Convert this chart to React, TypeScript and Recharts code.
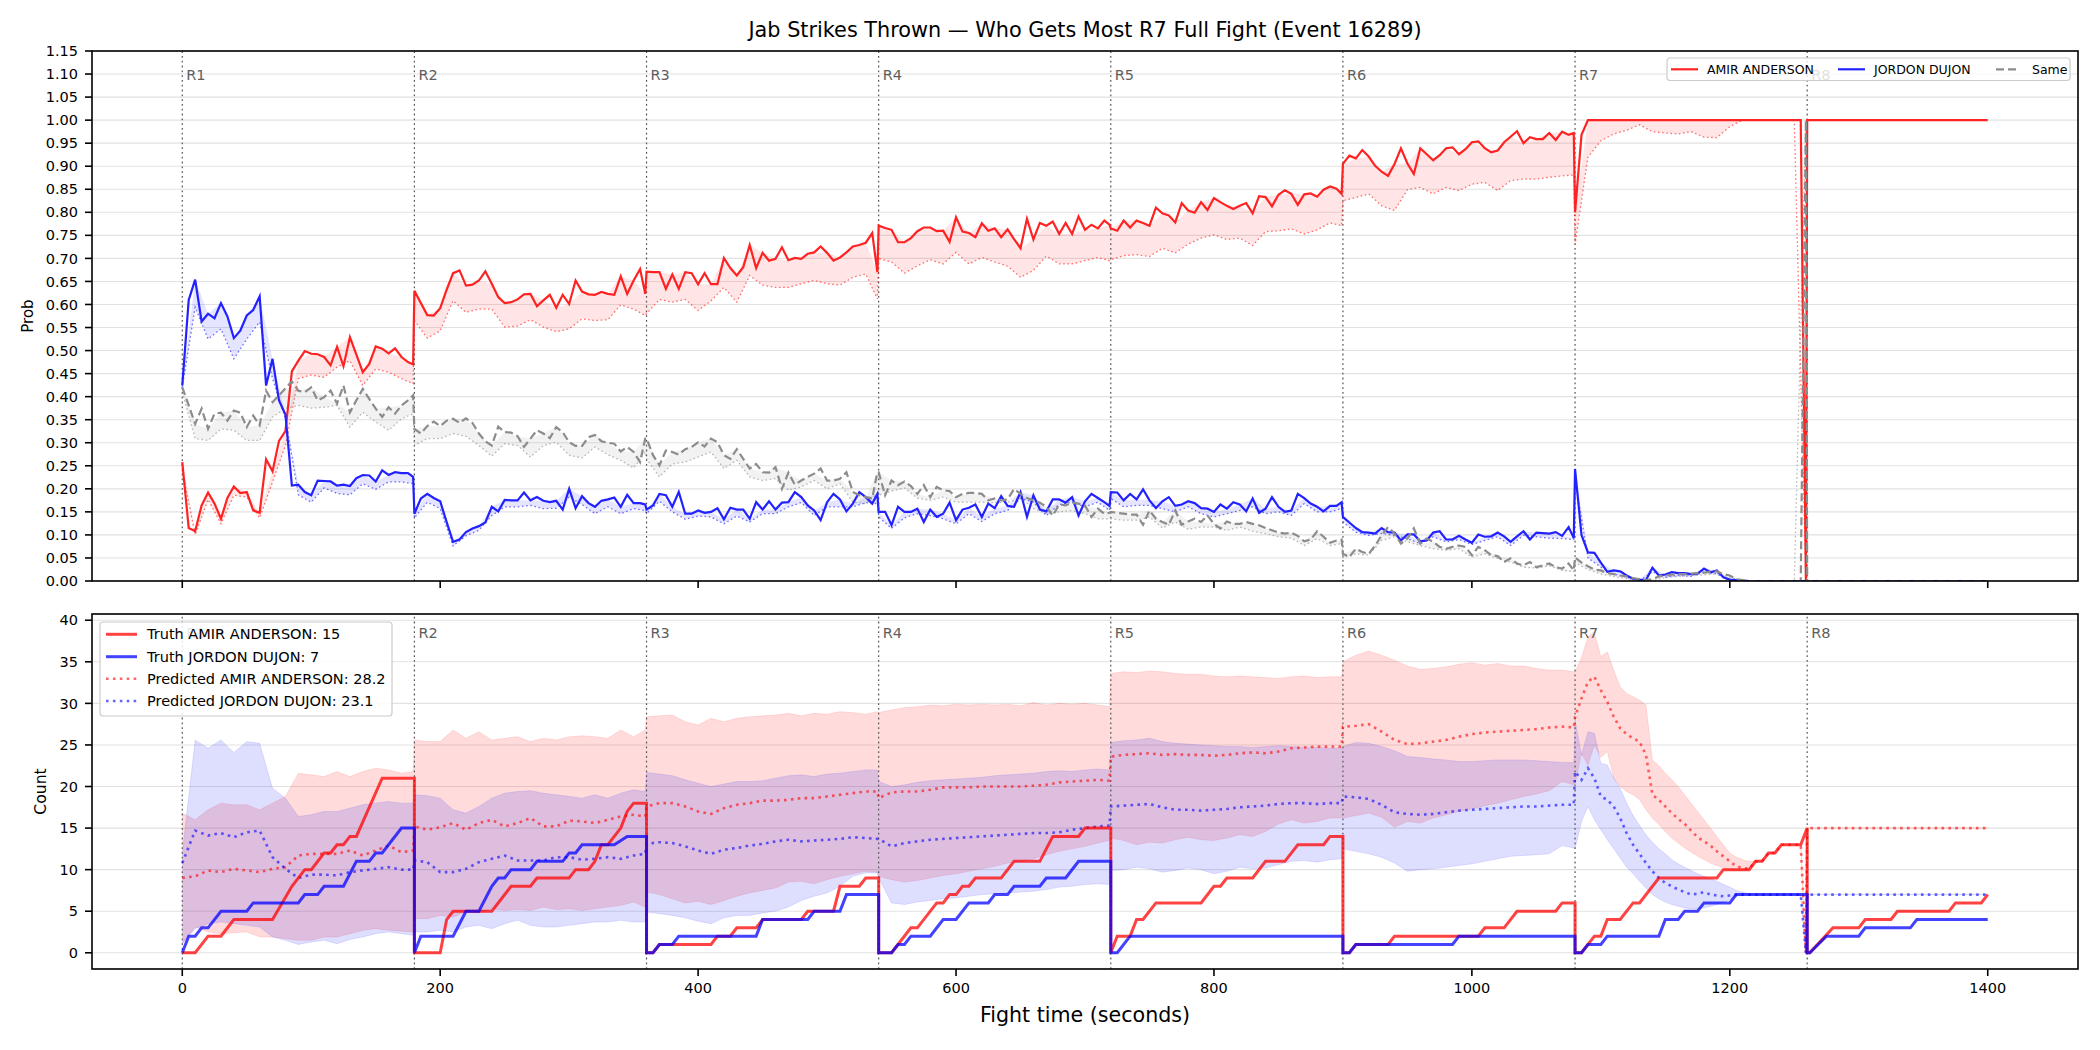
import React from "react";
import { Area, CartesianGrid, ComposedChart, Line, ReferenceLine, XAxis, YAxis } from "recharts";

// Fight layout: every round restarts the running counts at its start time.
const ROUND_STARTS = [0, 180, 360, 540, 720, 900, 1080];
const ROUND_LINES = [0, 180, 360, 540, 720, 900, 1080, 1260];
const ROUND_NAMES = ["R1", "R2", "R3", "R4", "R5", "R6", "R7", "R8"];
const ROUND_LAST = 179; // last sample before the round resets
const FINAL_T = [1260, 1400];
const TIME_TICKS = [0, 200, 400, 600, 800, 1000, 1200, 1400];
const PROB_TICKS = [0, 0.05, 0.1, 0.15, 0.2, 0.25, 0.3, 0.35, 0.4, 0.45, 0.5, 0.55, 0.6, 0.65, 0.7, 0.75, 0.8, 0.85, 0.9, 0.95, 1, 1.05, 1.1, 1.15];
const COUNT_TICKS = [0, 5, 10, 15, 20, 25, 30, 35, 40];

// ---- "who gets most" probabilities, one row per round, 5 s samples ----
const amirProb = [
  [0.258, 0.115, 0.108, 0.164, 0.192, 0.168, 0.135, 0.18, 0.205, 0.191, 0.193, 0.153, 0.148, 0.264, 0.238, 0.304, 0.325, 0.455, 0.478, 0.499, 0.493, 0.492, 0.486, 0.468, 0.508, 0.466, 0.529, 0.491, 0.453, 0.471, 0.509, 0.504, 0.494, 0.505, 0.486, 0.475, 0.47],
  [0.63, 0.603, 0.577, 0.576, 0.592, 0.632, 0.668, 0.674, 0.641, 0.643, 0.652, 0.672, 0.645, 0.616, 0.603, 0.605, 0.611, 0.622, 0.623, 0.596, 0.609, 0.621, 0.593, 0.621, 0.601, 0.652, 0.628, 0.622, 0.621, 0.627, 0.623, 0.621, 0.661, 0.623, 0.652, 0.677, 0.623],
  [0.671, 0.67, 0.67, 0.634, 0.665, 0.634, 0.67, 0.668, 0.644, 0.668, 0.644, 0.644, 0.701, 0.679, 0.663, 0.681, 0.729, 0.679, 0.712, 0.695, 0.699, 0.724, 0.696, 0.701, 0.699, 0.71, 0.713, 0.726, 0.712, 0.695, 0.702, 0.713, 0.726, 0.729, 0.734, 0.755, 0.67],
  [0.771, 0.766, 0.762, 0.735, 0.735, 0.744, 0.759, 0.767, 0.767, 0.759, 0.76, 0.736, 0.789, 0.758, 0.755, 0.746, 0.776, 0.76, 0.765, 0.746, 0.763, 0.742, 0.722, 0.786, 0.741, 0.777, 0.771, 0.78, 0.753, 0.777, 0.753, 0.791, 0.762, 0.773, 0.765, 0.782, 0.773],
  [0.765, 0.76, 0.782, 0.767, 0.782, 0.777, 0.771, 0.81, 0.798, 0.793, 0.778, 0.82, 0.804, 0.799, 0.822, 0.805, 0.831, 0.822, 0.814, 0.807, 0.814, 0.82, 0.798, 0.835, 0.833, 0.813, 0.838, 0.848, 0.84, 0.816, 0.839, 0.841, 0.834, 0.849, 0.856, 0.851, 0.84],
  [0.905, 0.923, 0.917, 0.935, 0.921, 0.901, 0.888, 0.879, 0.905, 0.939, 0.906, 0.883, 0.939, 0.926, 0.913, 0.924, 0.939, 0.941, 0.926, 0.937, 0.952, 0.954, 0.939, 0.93, 0.934, 0.952, 0.964, 0.976, 0.95, 0.963, 0.959, 0.959, 0.972, 0.957, 0.975, 0.968, 0.972],
  [0.8, 0.968, 1, 1, 1, 1, 1, 1, 1, 1, 1, 1, 1, 1, 1, 1, 1, 1, 1, 1, 1, 1, 1, 1, 1, 1, 1, 1, 1, 1, 1, 1, 1, 1, 1, 1, 0],
];
const jordonProb = [
  [0.424, 0.61, 0.654, 0.563, 0.58, 0.57, 0.603, 0.574, 0.527, 0.543, 0.576, 0.588, 0.618, 0.424, 0.482, 0.392, 0.361, 0.207, 0.209, 0.193, 0.186, 0.218, 0.217, 0.216, 0.207, 0.209, 0.206, 0.223, 0.23, 0.229, 0.216, 0.24, 0.23, 0.236, 0.234, 0.234, 0.226],
  [0.146, 0.179, 0.189, 0.18, 0.173, 0.128, 0.085, 0.09, 0.106, 0.114, 0.119, 0.127, 0.161, 0.151, 0.176, 0.175, 0.175, 0.192, 0.175, 0.182, 0.174, 0.171, 0.174, 0.155, 0.2, 0.158, 0.184, 0.169, 0.161, 0.174, 0.177, 0.181, 0.161, 0.187, 0.169, 0.169, 0.166],
  [0.155, 0.164, 0.189, 0.186, 0.161, 0.193, 0.146, 0.146, 0.153, 0.148, 0.15, 0.158, 0.134, 0.159, 0.155, 0.155, 0.135, 0.171, 0.155, 0.173, 0.155, 0.17, 0.171, 0.193, 0.182, 0.164, 0.153, 0.132, 0.171, 0.189, 0.177, 0.151, 0.168, 0.193, 0.182, 0.168, 0.189],
  [0.15, 0.15, 0.121, 0.161, 0.15, 0.15, 0.157, 0.128, 0.155, 0.139, 0.146, 0.17, 0.132, 0.155, 0.159, 0.166, 0.139, 0.168, 0.158, 0.184, 0.163, 0.161, 0.193, 0.139, 0.186, 0.155, 0.151, 0.177, 0.177, 0.17, 0.182, 0.142, 0.173, 0.189, 0.18, 0.171, 0.163],
  [0.193, 0.192, 0.175, 0.189, 0.177, 0.199, 0.175, 0.158, 0.173, 0.182, 0.163, 0.166, 0.173, 0.169, 0.158, 0.157, 0.15, 0.166, 0.157, 0.171, 0.166, 0.151, 0.179, 0.148, 0.157, 0.182, 0.161, 0.15, 0.153, 0.189, 0.18, 0.168, 0.161, 0.151, 0.163, 0.163, 0.171],
  [0.139, 0.127, 0.115, 0.106, 0.105, 0.103, 0.115, 0.106, 0.105, 0.088, 0.101, 0.101, 0.086, 0.088, 0.105, 0.108, 0.09, 0.09, 0.098, 0.09, 0.083, 0.101, 0.096, 0.097, 0.105, 0.097, 0.085, 0.097, 0.108, 0.09, 0.105, 0.104, 0.103, 0.106, 0.098, 0.117, 0.093],
  [0.243, 0.1, 0.062, 0.061, 0.04, 0.02, 0.023, 0.021, 0.012, 0.005, 0.003, 0.002, 0.029, 0.012, 0.014, 0.019, 0.017, 0.017, 0.015, 0.016, 0.027, 0.019, 0.023, 0.008, 0.003, 0.002, 0.001, 0, 0, 0, 0, 0, 0, 0, 0, 0, 0],
];
const sameProb = [
  [0.42, 0.381, 0.341, 0.374, 0.33, 0.363, 0.365, 0.348, 0.37, 0.365, 0.334, 0.359, 0.338, 0.413, 0.388, 0.403, 0.418, 0.433, 0.413, 0.41, 0.42, 0.392, 0.399, 0.413, 0.385, 0.424, 0.366, 0.392, 0.417, 0.395, 0.374, 0.356, 0.377, 0.363, 0.381, 0.392, 0.403],
  [0.33, 0.32, 0.336, 0.346, 0.336, 0.348, 0.352, 0.343, 0.353, 0.343, 0.32, 0.303, 0.294, 0.335, 0.323, 0.322, 0.314, 0.291, 0.309, 0.327, 0.32, 0.31, 0.334, 0.323, 0.301, 0.293, 0.293, 0.312, 0.317, 0.303, 0.3, 0.298, 0.281, 0.291, 0.28, 0.258, 0.309],
  [0.31, 0.273, 0.251, 0.283, 0.28, 0.274, 0.286, 0.291, 0.301, 0.292, 0.309, 0.301, 0.273, 0.265, 0.286, 0.265, 0.244, 0.254, 0.236, 0.235, 0.247, 0.2, 0.235, 0.209, 0.218, 0.226, 0.233, 0.244, 0.218, 0.218, 0.222, 0.236, 0.193, 0.186, 0.182, 0.179, 0.236],
  [0.236, 0.186, 0.218, 0.208, 0.216, 0.206, 0.189, 0.208, 0.182, 0.204, 0.197, 0.195, 0.182, 0.189, 0.191, 0.191, 0.189, 0.175, 0.179, 0.175, 0.177, 0.2, 0.189, 0.18, 0.175, 0.17, 0.161, 0.142, 0.166, 0.164, 0.17, 0.168, 0.164, 0.139, 0.157, 0.146, 0.148],
  [0.15, 0.148, 0.146, 0.144, 0.144, 0.122, 0.153, 0.135, 0.128, 0.122, 0.153, 0.122, 0.129, 0.135, 0.128, 0.142, 0.124, 0.114, 0.129, 0.124, 0.124, 0.128, 0.124, 0.121, 0.115, 0.11, 0.105, 0.103, 0.105, 0.098, 0.086, 0.09, 0.108, 0.096, 0.083, 0.088, 0.09],
  [0.059, 0.052, 0.07, 0.063, 0.059, 0.077, 0.099, 0.117, 0.103, 0.081, 0.092, 0.114, 0.081, 0.092, 0.085, 0.074, 0.07, 0.074, 0.077, 0.074, 0.056, 0.074, 0.067, 0.056, 0.054, 0.041, 0.049, 0.038, 0.034, 0.041, 0.03, 0.034, 0.038, 0.03, 0.027, 0.038, 0.023],
  [0.051, 0.04, 0.032, 0.025, 0.023, 0.017, 0.015, 0.012, 0.01, 0.006, 0.004, 0.002, 0.004, 0.01, 0.012, 0.014, 0.015, 0.015, 0.016, 0.017, 0.018, 0.02, 0.021, 0.015, 0.012, 0.004, 0.002, 0, 0, 0, 0, 0, 0, 0, 0, 0, 1],
];
// lower edge of each probability band, 10 s samples
const amirProbLow = [
  [0.24, 0.1, 0.177, 0.124, 0.186, 0.182, 0.137, 0.215, 0.294, 0.439, 0.447, 0.442, 0.464, 0.478, 0.424, 0.46, 0.453, 0.439, 0.428],
  [0.565, 0.527, 0.543, 0.608, 0.583, 0.59, 0.59, 0.551, 0.553, 0.567, 0.551, 0.541, 0.547, 0.569, 0.565, 0.567, 0.599, 0.59, 0.576],
  [0.58, 0.611, 0.605, 0.611, 0.587, 0.608, 0.637, 0.605, 0.663, 0.642, 0.637, 0.637, 0.645, 0.652, 0.645, 0.642, 0.659, 0.666, 0.612],
  [0.7, 0.692, 0.668, 0.684, 0.697, 0.688, 0.713, 0.688, 0.702, 0.692, 0.683, 0.659, 0.674, 0.705, 0.688, 0.688, 0.695, 0.702, 0.695],
  [0.697, 0.706, 0.708, 0.704, 0.722, 0.712, 0.731, 0.744, 0.751, 0.741, 0.744, 0.728, 0.758, 0.76, 0.764, 0.753, 0.762, 0.777, 0.771],
  [0.825, 0.832, 0.84, 0.814, 0.804, 0.849, 0.854, 0.84, 0.854, 0.847, 0.861, 0.865, 0.847, 0.869, 0.872, 0.872, 0.876, 0.879, 0.881],
  [0.73, 0.92, 0.955, 0.97, 0.978, 0.99, 0.975, 0.972, 0.97, 0.975, 0.963, 0.962, 0.986, 1, 1, 1, 1, 1, 0],
];
const jordonProbLow = [
  [0.42, 0.594, 0.525, 0.547, 0.482, 0.525, 0.562, 0.439, 0.352, 0.187, 0.171, 0.202, 0.19, 0.187, 0.211, 0.199, 0.215, 0.215, 0.211],
  [0.137, 0.171, 0.157, 0.076, 0.098, 0.11, 0.142, 0.161, 0.161, 0.164, 0.157, 0.158, 0.182, 0.166, 0.146, 0.161, 0.146, 0.157, 0.153],
  [0.146, 0.173, 0.15, 0.134, 0.141, 0.139, 0.124, 0.141, 0.128, 0.146, 0.146, 0.161, 0.17, 0.142, 0.161, 0.161, 0.161, 0.17, 0.168],
  [0.139, 0.114, 0.137, 0.146, 0.142, 0.135, 0.124, 0.146, 0.129, 0.146, 0.153, 0.179, 0.171, 0.142, 0.166, 0.171, 0.161, 0.171, 0.153],
  [0.179, 0.161, 0.164, 0.164, 0.157, 0.15, 0.161, 0.146, 0.139, 0.146, 0.153, 0.161, 0.146, 0.15, 0.142, 0.168, 0.15, 0.15, 0.157],
  [0.128, 0.106, 0.099, 0.103, 0.099, 0.092, 0.081, 0.096, 0.085, 0.09, 0.079, 0.088, 0.096, 0.077, 0.099, 0.096, 0.093, 0.092, 0.09],
  [0.22, 0.05, 0.03, 0.015, 0.008, 0, 0.02, 0.008, 0.012, 0.01, 0.02, 0.015, 0, 0, 0, 0, 0, 0, 0],
];
const sameProbLow = [
  [0.41, 0.309, 0.305, 0.33, 0.327, 0.305, 0.305, 0.356, 0.374, 0.381, 0.375, 0.377, 0.381, 0.334, 0.366, 0.345, 0.327, 0.352, 0.363],
  [0.294, 0.309, 0.309, 0.32, 0.314, 0.294, 0.271, 0.298, 0.294, 0.269, 0.294, 0.301, 0.273, 0.267, 0.291, 0.274, 0.262, 0.245, 0.28],
  [0.265, 0.226, 0.254, 0.258, 0.269, 0.28, 0.244, 0.262, 0.226, 0.218, 0.222, 0.197, 0.204, 0.218, 0.2, 0.211, 0.171, 0.168, 0.19],
  [0.186, 0.195, 0.202, 0.18, 0.175, 0.182, 0.171, 0.171, 0.171, 0.17, 0.171, 0.18, 0.157, 0.146, 0.15, 0.153, 0.146, 0.135, 0.135],
  [0.135, 0.132, 0.132, 0.139, 0.115, 0.128, 0.112, 0.117, 0.117, 0.11, 0.117, 0.108, 0.103, 0.096, 0.093, 0.077, 0.092, 0.077, 0.081],
  [0.05, 0.059, 0.056, 0.088, 0.096, 0.085, 0.077, 0.07, 0.067, 0.07, 0.052, 0.059, 0.049, 0.041, 0.03, 0.028, 0.033, 0.023, 0.02],
  [0.04, 0.025, 0.015, 0.01, 0.005, 0, 0, 0.008, 0.01, 0.012, 0.013, 0.016, 0.008, 0, 0, 0, 0, 0, 1],
];
const amirProbFinal = [1, 1];
const jordonProbFinal = [0, 0];
const sameProbFinal = [0, 0];

// ---- running counts: predicted mean and interval, 10 s (R7 at 5 s) ----
const amirPred = [
  [9.0, 9.2, 9.9, 9.7, 10.1, 9.9, 9.7, 10.1, 10.3, 11.7, 11.9, 11.9, 11.9, 12.3, 11.7, 12.3, 12.9, 12.1, 12.3],
  [15.2, 14.8, 15.1, 15.6, 14.8, 15.6, 16.0, 15.2, 15.6, 16.2, 15.2, 15.2, 15.9, 15.8, 15.6, 16.0, 16.4, 16.6, 16.4],
  [17.6, 18.0, 18.0, 17.6, 17.0, 16.7, 17.4, 17.8, 18.0, 18.3, 18.3, 18.4, 18.6, 18.6, 18.8, 19.0, 19.2, 19.4, 19.4],
  [18.6, 19.3, 19.4, 19.4, 19.6, 19.9, 19.9, 19.9, 20.0, 20.0, 20.0, 20.0, 20.1, 20.2, 20.5, 20.6, 20.7, 20.8, 20.7],
  [23.6, 23.8, 23.9, 24.0, 23.8, 23.9, 23.8, 23.8, 23.7, 23.8, 24.0, 24.1, 24.0, 24.2, 24.6, 24.7, 24.8, 24.8, 24.8],
  [27.2, 27.3, 27.5, 26.6, 25.6, 25.1, 25.2, 25.4, 25.6, 26.0, 26.3, 26.5, 26.6, 26.7, 26.8, 26.9, 27.1, 27.2, 27.1],
  [28.4, 30.6, 32.6, 33.2, 31.6, 30.2, 28.4, 27.0, 26.3, 25.8, 25.4, 23.8, 19.0, 18.4, 17.6, 16.8, 16.1, 15.5, 14.7, 13.9, 13.4, 12.9, 12.2, 11.6, 11.0, 10.4, 10.2, 10.1, 11, 11, 12, 12, 13, 13, 13, 13, 0],
];
const jordonPred = [
  [10.8, 14.7, 14.1, 14.4, 13.9, 14.5, 14.7, 11.5, 10.1, 9.0, 9.4, 9.4, 9.3, 9.7, 9.9, 10.1, 10.3, 10.0, 10.0],
  [11.1, 10.9, 9.7, 9.7, 10.1, 10.9, 11.3, 11.7, 11.1, 11.1, 11.1, 11.5, 11.5, 11.2, 11.3, 11.5, 11.3, 11.7, 11.9],
  [13.1, 13.3, 13.2, 12.8, 12.3, 11.9, 12.4, 12.6, 12.9, 13.1, 13.4, 13.6, 13.4, 13.5, 13.6, 13.7, 13.9, 13.8, 13.7],
  [13.7, 12.8, 13.2, 13.4, 13.6, 13.7, 13.8, 13.9, 14.0, 14.1, 14.2, 14.3, 14.4, 14.4, 14.5, 14.8, 15.0, 15.2, 15.3],
  [17.6, 17.7, 17.8, 17.9, 17.5, 17.2, 17.2, 17.1, 17.2, 17.3, 17.5, 17.6, 17.7, 17.9, 18.0, 18.0, 17.9, 18.0, 18.0],
  [18.8, 18.7, 18.5, 17.8, 16.9, 16.7, 16.6, 16.7, 16.9, 17.1, 17.2, 17.3, 17.4, 17.5, 17.6, 17.6, 17.7, 17.8, 17.8],
  [21.8, 20.8, 22.2, 21.0, 18.8, 18.4, 17.6, 16.2, 14.4, 13.0, 11.9, 10.8, 9.8, 9.0, 8.4, 8.0, 7.6, 7.3, 7.0, 7.1, 7.3, 7.0, 6.9, 6.8, 6.9, 7.0, 7, 7, 7, 7, 7, 7, 7, 7, 7, 7, 0],
];
const amirHigh = [
  [16.8, 16.0, 17.2, 18.0, 17.8, 17.8, 17.2, 18.0, 18.8, 21.6, 21.4, 21.2, 21.8, 21.2, 21.8, 22.2, 22.0, 21.6, 21.8],
  [25.6, 25.4, 25.4, 26.8, 25.8, 26.6, 25.6, 25.8, 26.0, 25.4, 25.8, 25.6, 26.0, 26.1, 26.0, 25.8, 26.8, 26.0, 26.8],
  [28.4, 28.5, 28.6, 27.8, 27.4, 28.2, 27.8, 28.2, 28.4, 28.5, 28.6, 28.8, 28.5, 28.8, 28.7, 29.0, 28.9, 28.7, 29.0],
  [28.9, 29.2, 29.5, 29.6, 29.8, 29.7, 29.9, 29.8, 29.9, 29.8, 29.9, 29.7, 30.1, 29.8, 30.0, 29.9, 30.0, 29.8, 29.6],
  [33.6, 33.8, 33.7, 33.9, 33.8, 33.6, 33.5, 33.5, 33.3, 33.2, 33.3, 33.2, 33.1, 33.0, 33.2, 33.3, 33.1, 33.2, 33.2],
  [35.0, 35.8, 36.3, 35.8, 35.2, 34.5, 34.1, 34.2, 34.4, 34.7, 34.9, 34.6, 34.8, 34.5, 34.5, 34.2, 34.0, 34.0, 33.8],
  [33.8, 35.5, 38.0, 38.6, 35.6, 36.2, 34.0, 32.0, 31.2, 30.8, 30.4, 29.8, 23.2, 22.5, 21.6, 20.8, 20.0, 19.0, 18.0, 17.0, 16.0, 15.0, 14.0, 13.0, 12.0, 11.5, 11.2, 11.0, 11, 11, 12, 12, 13, 13, 13, 13, 0],
];
const amirLow = [
  [1.1, 3.1, 2.5, 2.3, 2.4, 2.5, 1.9, 1.9, 1.7, 1.5, 1.5, 1.9, 1.9, 2.3, 2.7, 2.9, 2.7, 2.6, 2.5],
  [4.1, 4.1, 4.5, 4.3, 4.9, 4.8, 5.3, 5.1, 5.2, 5.1, 5.5, 5.2, 5.3, 5.1, 5.3, 5.5, 5.7, 6.1, 5.5],
  [7.3, 7.0, 6.5, 6.0, 6.2, 5.8, 6.3, 6.8, 7.2, 7.5, 7.8, 8.5, 8.6, 8.3, 8.8, 9.2, 9.5, 9.8, 9.7],
  [9.2, 8.8, 8.5, 8.7, 9.0, 9.3, 9.5, 9.8, 10.1, 10.4, 10.8, 11.0, 11.3, 11.8, 12.2, 12.5, 12.8, 13.2, 13.5],
  [13.8, 13.5, 13.0, 13.3, 13.2, 13.6, 13.9, 13.6, 13.5, 13.8, 14.2, 14.0, 14.6, 15.5, 16.0, 15.6, 15.8, 16.2, 16.2],
  [16.2, 16.5, 16.8, 16.3, 15.1, 15.8, 15.6, 16.2, 16.6, 17.0, 17.3, 17.7, 18.0, 18.4, 18.8, 19.1, 19.5, 20.6, 20.2],
  [20.2, 24.0, 22.6, 25.0, 23.5, 24.2, 21.0, 20.0, 19.4, 19.0, 18.4, 17.2, 16.2, 15.4, 14.6, 13.8, 13.2, 12.6, 12.1, 11.6, 11.2, 10.8, 10.5, 10.2, 10.0, 9.9, 9.9, 10.0, 11, 11, 12, 12, 13, 13, 13, 13, 0],
];
const jordonHigh = [
  [12.0, 25.6, 24.6, 25.6, 24.1, 25.4, 25.2, 19.8, 18.6, 16.4, 16.6, 17.0, 17.0, 17.4, 17.8, 18.0, 18.2, 18.0, 18.0],
  [19.0, 18.9, 18.6, 17.2, 16.8, 17.6, 18.6, 19.2, 19.4, 19.5, 19.2, 19.0, 18.8, 18.6, 19.0, 18.6, 19.2, 19.6, 19.4],
  [21.7, 21.5, 21.3, 20.8, 20.4, 20.0, 20.3, 20.6, 20.6, 20.7, 21.0, 21.3, 21.4, 21.2, 21.5, 21.6, 21.8, 22.0, 22.0],
  [20.6, 20.0, 20.2, 20.5, 20.7, 20.8, 20.9, 21.0, 21.1, 21.3, 21.4, 21.5, 21.6, 21.8, 21.9, 21.8, 22.0, 22.1, 22.0],
  [25.3, 25.5, 25.6, 25.8, 25.4, 25.2, 25.1, 25.0, 24.9, 24.8, 24.8, 24.7, 24.8, 24.9, 24.8, 24.7, 24.7, 24.6, 24.6],
  [24.8, 25.3, 25.2, 24.8, 24.3, 23.6, 23.5, 23.3, 23.2, 23.0, 23.0, 23.1, 23.2, 23.2, 23.2, 23.1, 23.0, 22.9, 22.9],
  [28.0, 23.8, 26.6, 26.4, 22.8, 22.6, 21.0, 19.8, 18.0, 16.5, 15.3, 14.2, 13.3, 12.5, 11.9, 11.2, 10.7, 10.3, 9.9, 9.5, 9.2, 8.9, 8.6, 8.2, 7.9, 7.5, 7.3, 7.1, 7, 7, 7, 7, 7, 7, 7, 7, 0],
];
const jordonLow = [
  [1.1, 2.9, 3.5, 3.7, 3.5, 3.3, 3.1, 1.9, 1.5, 1.0, 1.3, 1.5, 1.1, 1.6, 1.9, 2.3, 2.5, 2.3, 2.1],
  [2.5, 2.5, 2.7, 2.5, 3.1, 3.3, 2.9, 3.5, 3.9, 3.3, 3.1, 3.1, 3.3, 3.5, 3.7, 3.7, 3.9, 3.7, 3.7],
  [4.9, 4.7, 4.5, 4.2, 3.8, 3.5, 4.2, 4.5, 4.5, 4.8, 5.0, 5.5, 6.3, 6.8, 7.2, 8.0, 9.2, 9.6, 9.6],
  [9.0, 6.0, 5.8, 6.1, 6.3, 6.5, 6.6, 6.8, 7.0, 7.1, 7.2, 7.3, 7.4, 7.6, 7.9, 8.0, 8.2, 8.3, 8.2],
  [9.9, 10.0, 10.3, 10.1, 9.7, 9.9, 10.2, 10.0, 9.5, 9.8, 10.3, 10.1, 10.2, 10.6, 11.0, 11.1, 10.9, 11.2, 11.3],
  [12.5, 12.2, 11.9, 11.5, 10.8, 9.8, 10.0, 10.1, 10.3, 10.5, 10.7, 11.0, 11.3, 11.6, 11.7, 11.8, 11.9, 12.9, 12.6],
  [12.5, 15.8, 17.6, 16.0, 14.8, 13.6, 12.5, 11.4, 10.3, 9.5, 8.6, 7.8, 7.0, 6.5, 6.1, 5.8, 5.6, 5.4, 5.3, 5.3, 5.4, 5.6, 5.8, 6.1, 6.4, 6.8, 7.0, 7.0, 7, 7, 7, 7, 7, 7, 7, 7, 0],
];
const amirPredFinal = [15, 15];
const jordonPredFinal = [7, 7];

// ---- actual jab counts [time, count], resetting every round ----
const amirTruth = [
  [0, 0], [10, 0], [20, 2], [30, 2], [40, 4], [70, 4], [85, 8], [95, 10], [100, 10], [110, 12], [115, 12], [120, 13], [125, 13], [130, 14], [135, 14], [155, 21], [180, 21],
  [180, 0], [200, 0], [205, 4], [210, 5], [240, 5], [255, 8], [270, 8], [275, 9], [300, 9], [305, 10], [315, 10], [320, 11], [325, 13], [330, 13], [335, 14], [340, 15], [345, 17], [350, 18], [360, 18],
  [360, 0], [365, 0], [370, 1], [410, 1], [415, 2], [425, 2], [430, 3], [445, 3], [450, 4], [480, 4], [485, 5], [505, 5], [510, 8], [525, 8], [530, 9], [540, 9],
  [540, 0], [550, 0], [565, 3], [570, 3], [585, 6], [590, 6], [595, 7], [600, 7], [605, 8], [610, 8], [615, 9], [635, 9], [645, 11], [665, 11], [675, 14], [695, 14], [700, 15], [720, 15],
  [720, 0], [725, 2], [735, 2], [740, 4], [745, 4], [755, 6], [790, 6], [800, 8], [805, 8], [810, 9], [830, 9], [840, 11], [855, 11], [865, 13], [885, 13], [890, 14], [900, 14],
  [900, 0], [905, 0], [910, 1], [935, 1], [940, 2], [1005, 2], [1010, 3], [1025, 3], [1035, 5], [1065, 5], [1070, 6], [1080, 6],
  [1080, 0], [1085, 0], [1095, 2], [1100, 2], [1105, 4], [1115, 4], [1125, 6], [1130, 6], [1145, 9], [1190, 9], [1195, 10], [1215, 10], [1220, 11], [1225, 11], [1230, 12], [1235, 12], [1240, 13], [1255, 13], [1260, 15],
  [1260, 0], [1262, 0], [1280, 3], [1300, 3], [1305, 4], [1325, 4], [1330, 5], [1370, 5], [1375, 6], [1395, 6], [1400, 7],
];
const jordonTruth = [
  [0, 0], [5, 2], [10, 2], [15, 3], [20, 3], [30, 5], [50, 5], [55, 6], [90, 6], [95, 7], [105, 7], [110, 8], [125, 8], [135, 11], [145, 11], [150, 12], [155, 12], [170, 15], [180, 15],
  [180, 0], [185, 2], [210, 2], [220, 5], [230, 5], [240, 8], [245, 9], [250, 9], [255, 10], [270, 10], [275, 11], [295, 11], [300, 12], [305, 12], [310, 13], [335, 13], [345, 14], [360, 14],
  [360, 0], [365, 0], [370, 1], [380, 1], [385, 2], [445, 2], [450, 4], [485, 4], [490, 5], [510, 5], [515, 7], [540, 7],
  [540, 0], [550, 0], [555, 1], [560, 1], [565, 2], [580, 2], [590, 4], [600, 4], [610, 6], [625, 6], [630, 7], [640, 7], [645, 8], [665, 8], [670, 9], [685, 9], [695, 11], [720, 11],
  [720, 0], [725, 0], [735, 2], [900, 2],
  [900, 0], [905, 0], [910, 1], [985, 1], [990, 2], [1080, 2],
  [1080, 0], [1085, 0], [1090, 1], [1100, 1], [1105, 2], [1145, 2], [1150, 4], [1160, 4], [1165, 5], [1175, 5], [1180, 6], [1200, 6], [1205, 7], [1260, 7],
  [1260, 0], [1262, 0], [1275, 2], [1300, 2], [1305, 3], [1340, 3], [1345, 4], [1400, 4],
];

const RED = "#ff2222";
const BLUE = "#2222ff";
const GRAY = "#8c8c8c";
const FONT = "DejaVu Sans";

type Pt = { t: number; v: any };

function sampleTime(round: number, i: number, n: number) {
  return i === n - 1 ? ROUND_STARTS[round] + ROUND_LAST : ROUND_STARTS[round] + (i * 180) / (n - 1);
}

function toSeries(rounds: number[][], final: number[]): Pt[] {
  const pts: Pt[] = [];
  rounds.forEach((vals, r) => vals.forEach((v, i) => pts.push({ t: sampleTime(r, i, vals.length), v })));
  final.forEach((v, i) => pts.push({ t: FINAL_T[i], v }));
  return pts;
}

function toBand(lows: number[][], highs: number[][], final: number[]): Pt[] {
  const pts: Pt[] = [];
  lows.forEach((vals, r) => vals.forEach((lo, i) => pts.push({ t: sampleTime(r, i, vals.length), v: [lo, highs[r][i]] })));
  final.forEach((v, i) => pts.push({ t: FINAL_T[i], v: [v, v] }));
  return pts;
}

// probability band tops are the 10 s samples of the line itself
const every10s = (rounds: number[][], lows: number[][]) => rounds.map((vals, r) => lows[r].map((_, i) => vals[2 * i]));

const amirProbLine = toSeries(amirProb, amirProbFinal);
const jordonProbLine = toSeries(jordonProb, jordonProbFinal);
const sameProbLine = toSeries(sameProb, sameProbFinal);
const amirProbLowLine = toSeries(amirProbLow, amirProbFinal);
const jordonProbLowLine = toSeries(jordonProbLow, jordonProbFinal);
const sameProbLowLine = toSeries(sameProbLow, sameProbFinal);
const amirProbBand = toBand(amirProbLow, every10s(amirProb, amirProbLow), amirProbFinal);
const jordonProbBand = toBand(jordonProbLow, every10s(jordonProb, jordonProbLow), jordonProbFinal);
const sameProbBand = toBand(sameProbLow, every10s(sameProb, sameProbLow), sameProbFinal);

const amirPredLine = toSeries(amirPred, amirPredFinal);
const jordonPredLine = toSeries(jordonPred, jordonPredFinal);
const amirCountBand = toBand(amirLow, amirHigh, amirPredFinal);
const jordonCountBand = toBand(jordonLow, jordonHigh, jordonPredFinal);
const amirTruthLine = amirTruth.map(([t, v]) => ({ t, v }));
const jordonTruthLine = jordonTruth.map(([t, v]) => ({ t, v }));

const tickStyle = { fontSize: 14.5, fill: "#000", fontFamily: FONT };

function RoundTag(props: any) {
  const x = props.viewBox ? props.viewBox.x : 0;
  return (
    <text x={x + 4} y={props.top} fill="#5e5e5e" fontSize={14.5} fontFamily={FONT} dominantBaseline="central">
      {props.value}
    </text>
  );
}

function roundLines(top: number) {
  return ROUND_LINES.map((t, i) => (
    <ReferenceLine
      key={t}
      x={t}
      stroke="#555"
      strokeWidth={1.2}
      strokeDasharray="1.8 3"
      label={<RoundTag value={ROUND_NAMES[i]} top={top} />}
    />
  ));
}

const lineProps = { type: "linear" as const, dataKey: "v", dot: false, activeDot: false, isAnimationActive: false };

export default function App() {
  return (
    <div style={{ position: "relative", width: 2100, height: 1050, background: "#fff", fontFamily: FONT }}>
      <style>{"body{margin:0}"}</style>

      <ComposedChart width={2100} height={600} margin={{ top: 51, right: 22, bottom: 0, left: 32 }} style={{ position: "absolute", left: 0, top: 0 }}>
        <CartesianGrid vertical={false} stroke="#e2e2e2" strokeWidth={1.1} />
        <XAxis dataKey="t" type="number" domain={[-70, 1470]} ticks={TIME_TICKS} allowDataOverflow height={19} axisLine={false} tickLine={{ stroke: "#000", strokeWidth: 1.6 }} tickSize={7} tickFormatter={() => ""} />
        <YAxis type="number" domain={[0, 1.15]} ticks={PROB_TICKS} allowDataOverflow width={60} axisLine={false} tickLine={{ stroke: "#000", strokeWidth: 1.6 }} tickSize={7} tickMargin={7} tick={tickStyle} tickFormatter={(v: number) => v.toFixed(2)} />
        {roundLines(75)}
        <Area data={amirProbBand} {...lineProps} fill="rgba(255,0,0,0.1)" fillOpacity={1} stroke="none" />
        <Area data={jordonProbBand} {...lineProps} fill="rgba(0,0,255,0.1)" fillOpacity={1} stroke="none" />
        <Area data={sameProbBand} {...lineProps} fill="rgba(128,128,128,0.1)" fillOpacity={1} stroke="none" />
        <Line data={amirProbLowLine} {...lineProps} stroke="rgba(255,0,0,0.55)" strokeWidth={1.3} strokeDasharray="1.6 2.6" />
        <Line data={jordonProbLowLine} {...lineProps} stroke="rgba(0,0,255,0.55)" strokeWidth={1.3} strokeDasharray="1.6 2.6" />
        <Line data={sameProbLowLine} {...lineProps} stroke="rgba(128,128,128,0.55)" strokeWidth={1.3} strokeDasharray="1.6 2.6" />
        <Line data={amirProbLine} {...lineProps} stroke={RED} strokeWidth={2.2} />
        <Line data={jordonProbLine} {...lineProps} stroke={BLUE} strokeWidth={2.2} />
        <Line data={sameProbLine} {...lineProps} stroke={GRAY} strokeWidth={2.2} strokeDasharray="8 4" />
      </ComposedChart>

      <ComposedChart width={2100} height={450} margin={{ top: 14, right: 22, bottom: 0, left: 32 }} style={{ position: "absolute", left: 0, top: 600 }}>
        <CartesianGrid vertical={false} stroke="#e2e2e2" strokeWidth={1.1} />
        <XAxis dataKey="t" type="number" domain={[-70, 1470]} ticks={TIME_TICKS} allowDataOverflow height={81} axisLine={false} tickLine={{ stroke: "#000", strokeWidth: 1.6 }} tickSize={7} tickMargin={7} tick={tickStyle} />
        <YAxis type="number" domain={[-1.95, 40.75]} ticks={COUNT_TICKS} allowDataOverflow width={60} axisLine={false} tickLine={{ stroke: "#000", strokeWidth: 1.6 }} tickSize={7} tickMargin={7} tick={tickStyle} />
        {roundLines(33)}
        <Area data={amirCountBand} {...lineProps} fill="rgba(255,0,0,0.14)" fillOpacity={1} stroke="rgba(255,0,0,0.1)" strokeWidth={1} />
        <Area data={jordonCountBand} {...lineProps} fill="rgba(0,0,255,0.13)" fillOpacity={1} stroke="rgba(0,0,255,0.1)" strokeWidth={1} />
        <Line data={amirPredLine} {...lineProps} stroke="rgba(255,0,0,0.6)" strokeWidth={2.6} strokeDasharray="2.6 4.3" />
        <Line data={jordonPredLine} {...lineProps} stroke="rgba(0,0,255,0.6)" strokeWidth={2.6} strokeDasharray="2.6 4.3" />
        <Line data={amirTruthLine} {...lineProps} stroke="rgba(255,0,0,0.74)" strokeWidth={3} />
        <Line data={jordonTruthLine} {...lineProps} stroke="rgba(0,0,255,0.74)" strokeWidth={3} />
      </ComposedChart>

      <svg width={2100} height={1050} style={{ position: "absolute", left: 0, top: 0, pointerEvents: "none" }} fontFamily={FONT}>
        <rect x={92} y={51} width={1986} height={530} fill="none" stroke="#000" strokeWidth={1.6} />
        <rect x={92} y={614} width={1986} height={355} fill="none" stroke="#000" strokeWidth={1.6} />

        <text x={1085} y={30} fontSize={20.8} textAnchor="middle" dominantBaseline="central">
          Jab Strikes Thrown — Who Gets Most R7 Full Fight (Event 16289)
        </text>
        <text x={28} y={316} fontSize={15} textAnchor="middle" dominantBaseline="central" transform="rotate(-90 28 316)">
          Prob
        </text>
        <text x={41} y={791.5} fontSize={15.6} textAnchor="middle" dominantBaseline="central" transform="rotate(-90 41 791.5)">
          Count
        </text>
        <text x={1085} y={1015} fontSize={20.6} textAnchor="middle" dominantBaseline="central">
          Fight time (seconds)
        </text>

        {/* probability legend, semi-opaque over the R8 tag */}
        <rect x={1667} y={58} width={403} height={22.5} rx={3} fill="#fff" fillOpacity={0.8} stroke="#cccccc" strokeWidth={1.2} />
        <line x1={1671} x2={1698} y1={69.3} y2={69.3} stroke={RED} strokeWidth={2.2} />
        <text x={1707} y={69.3} fontSize={12.5} dominantBaseline="central">AMIR ANDERSON</text>
        <line x1={1838} x2={1865} y1={69.3} y2={69.3} stroke={BLUE} strokeWidth={2.2} />
        <text x={1874} y={69.3} fontSize={12.5} dominantBaseline="central">JORDON DUJON</text>
        <line x1={1996} x2={2020} y1={69.3} y2={69.3} stroke={GRAY} strokeWidth={2.2} strokeDasharray="8 4" />
        <text x={2032} y={69.3} fontSize={12.5} dominantBaseline="central">Same</text>

        {/* count legend, semi-opaque over the R1 tag */}
        <rect x={100} y={622} width={292} height={94} rx={3} fill="#fff" fillOpacity={0.85} stroke="#cccccc" strokeWidth={1.2} />
        <line x1={106} x2={137} y1={634.3} y2={634.3} stroke="rgba(255,0,0,0.74)" strokeWidth={3} />
        <text x={147} y={634.3} fontSize={14.5} dominantBaseline="central">Truth AMIR ANDERSON: 15</text>
        <line x1={106} x2={137} y1={656.7} y2={656.7} stroke="rgba(0,0,255,0.74)" strokeWidth={3} />
        <text x={147} y={656.7} fontSize={14.5} dominantBaseline="central">Truth JORDON DUJON: 7</text>
        <line x1={106} x2={137} y1={678.7} y2={678.7} stroke="rgba(255,0,0,0.6)" strokeWidth={2.6} strokeDasharray="2.6 4.3" />
        <text x={147} y={678.7} fontSize={14.5} dominantBaseline="central">Predicted AMIR ANDERSON: 28.2</text>
        <line x1={106} x2={137} y1={701} y2={701} stroke="rgba(0,0,255,0.6)" strokeWidth={2.6} strokeDasharray="2.6 4.3" />
        <text x={147} y={701} fontSize={14.5} dominantBaseline="central">Predicted JORDON DUJON: 23.1</text>
      </svg>
    </div>
  );
}
